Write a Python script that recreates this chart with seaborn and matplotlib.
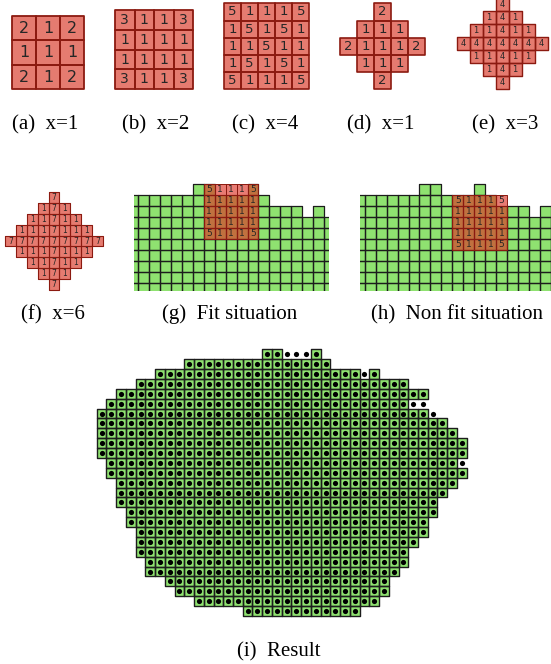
import numpy as np
import matplotlib
matplotlib.use("Agg")
import matplotlib.pyplot as plt
from matplotlib.colors import ListedColormap
from matplotlib.collections import PatchCollection
from matplotlib.patches import Rectangle
import seaborn as sns

# ---------------------------------------------------------------- data
# square kernels (weights per cell)
SQUARE_X1 = [[2, 1, 2],
             [1, 1, 1],
             [2, 1, 2]]
SQUARE_X2 = [[3, 1, 1, 3],
             [1, 1, 1, 1],
             [1, 1, 1, 1],
             [3, 1, 1, 3]]
SQUARE_X4 = [[5, 1, 1, 1, 5],
             [1, 5, 1, 5, 1],
             [1, 1, 5, 1, 1],
             [1, 5, 1, 5, 1],
             [5, 1, 1, 1, 5]]
# diamond kernels (0 = outside the kernel)
DIAMOND_X1 = [[0, 0, 2, 0, 0],
              [0, 1, 1, 1, 0],
              [2, 1, 1, 1, 2],
              [0, 1, 1, 1, 0],
              [0, 0, 2, 0, 0]]
DIAMOND_X3 = [[0, 0, 0, 4, 0, 0, 0],
              [0, 0, 1, 4, 1, 0, 0],
              [0, 1, 1, 4, 1, 1, 0],
              [4, 4, 4, 4, 4, 4, 4],
              [0, 1, 1, 4, 1, 1, 0],
              [0, 0, 1, 4, 1, 0, 0],
              [0, 0, 0, 4, 0, 0, 0]]
DIAMOND_X6 = [[0, 0, 0, 0, 7, 0, 0, 0, 0],
              [0, 0, 0, 1, 7, 1, 0, 0, 0],
              [0, 0, 1, 1, 7, 1, 1, 0, 0],
              [0, 1, 1, 1, 7, 1, 1, 1, 0],
              [7, 7, 7, 7, 7, 7, 7, 7, 7],
              [0, 1, 1, 1, 7, 1, 1, 1, 0],
              [0, 0, 1, 1, 7, 1, 1, 0, 0],
              [0, 0, 0, 1, 7, 1, 0, 0, 0],
              [0, 0, 0, 0, 7, 0, 0, 0, 0]]

# kernel placed on the map, and its top-left (row, col) on the map
PLACED_KERNEL = [[5, 1, 1, 1, 5],
                 [1, 1, 1, 1, 1],
                 [1, 1, 1, 1, 1],
                 [1, 1, 1, 1, 1],
                 [5, 1, 1, 1, 5]]
FIT_AT = (0, 18)
NONFIT_AT = (1, 20)

# map, run-length coded per row: '#' covered cell, 'o' uncovered point, '.' empty
MAP_RUNS = [
    "17. 2# 3o 1# 15.",
    "9. 15# 14.",
    "6. 21# 1o 1# 9.",
    "4. 28# 6.",
    "2. 32# 4.",
    "1. 31# 2o 4.",
    "34# 1o 3.",
    "36# 2.",
    "37# 1.",
    "38#",
    "38#",
    "1. 36# 1o",
    "1. 37#",
    "2. 35# 1.",
    "2. 34# 2.",
    "2. 33# 3.",
    "3. 32# 3.",
    "3. 31# 4.",
    "4. 30# 4.",
    "4. 29# 5.",
    "4. 28# 6.",
    "5. 27# 6.",
    "5. 26# 7.",
    "7. 23# 8.",
    "8. 22# 8.",
    "10. 19# 9.",
    "15. 12# 11.",
]

CAPTIONS = ["(a)  x=1", "(b)  x=2", "(c)  x=4", "(d)  x=1", "(e)  x=3",
            "(f)  x=6", "(g)  Fit situation", "(h)  Non fit situation",
            "(i)  Result"]

# ---------------------------------------------------------------- style
KERNEL_FILL = "#e57b70"
KERNEL_EDGE = "#8b1a10"
OVERLAY_RED = "#dc3124"
DIGIT = "#262626"
GREEN = "#8fe270"
GRID_EDGE = "#1c1c1c"

sns.set_theme(style="white")
plt.rcParams["font.family"] = ["DejaVu Sans"]

W, H = 551, 664
fig = plt.figure(figsize=(W / 100, H / 100), dpi=100)
fig.patch.set_facecolor("white")


def expand(run):
    return "".join(tok[-1] * int(tok[:-1]) for tok in run.split())


MAP = np.array([list(expand(r)) for r in MAP_RUNS])
CELLS = MAP == "#"
POINTS = (MAP == "#") | (MAP == "o")


def axes_px(x0, y0, x1, y1):
    ax = fig.add_axes([x0 / W, 1 - y1 / H, (x1 - x0) / W, (y1 - y0) / H])
    ax.set_facecolor("none")
    return ax


def outline(ax, mask, color, lw, clip=True, z=2):
    rows, cols = np.nonzero(mask)
    rects = [Rectangle((c, r), 1, 1) for r, c in zip(rows, cols)]
    pc = PatchCollection(rects, facecolor="none", edgecolor=color,
                         linewidth=lw, zorder=z, clip_on=clip)
    ax.add_collection(pc, autolim=False)


def kernel_panel(box, values, fs, lw):
    ax = axes_px(*box)
    vals = np.array(values)
    mask = vals == 0
    sns.heatmap(vals, mask=mask, cmap=ListedColormap([KERNEL_FILL]),
                cbar=False, annot=True, fmt="d",
                annot_kws=dict(color=DIGIT, fontsize=fs),
                xticklabels=False, yticklabels=False, ax=ax)
    outline(ax, ~mask, KERNEL_EDGE, lw, clip=False)
    ax.set(xlabel="", ylabel="")
    return ax


def map_panel(box, kernel_at, col0_px, row0_px, sx, sy):
    ax = axes_px(*box)
    sns.heatmap(CELLS.astype(int), mask=~CELLS, cmap=ListedColormap([GREEN]),
                cbar=False, xticklabels=False, yticklabels=False, ax=ax)
    outline(ax, CELLS, GRID_EDGE, 0.9)
    k = np.array(PLACED_KERNEL)
    full = np.zeros(CELLS.shape, int)
    r0, c0 = kernel_at
    full[r0:r0 + k.shape[0], c0:c0 + k.shape[1]] = k
    sns.heatmap(full, mask=full == 0, cmap=ListedColormap([OVERLAY_RED]),
                alpha=0.64, zorder=2.5, cbar=False, annot=True, fmt="d",
                annot_kws=dict(color=DIGIT, fontsize=6.5),
                xticklabels=False, yticklabels=False, ax=ax)
    outline(ax, full > 0, KERNEL_EDGE, 0.7, z=3)
    x0, y0, x1, y1 = box
    ax.set_xlim((x0 - col0_px) / sx, (x1 - col0_px) / sx)
    ax.set_ylim((y1 - row0_px) / sy, (y0 - row0_px) / sy)
    ax.set(xlabel="", ylabel="")
    return ax


# ---------------------------------------------------------------- kernels
kernel_panel((12.3, 16.0, 84.3, 89.3), SQUARE_X1, 11.5, 1.3)
kernel_panel((115.0, 10.0, 193.3, 89.3), SQUARE_X2, 10, 1.3)
kernel_panel((224.0, 3.3, 309.3, 89.3), SQUARE_X4, 9.5, 1.2)
kernel_panel((340.0, 3.3, 425.0, 89.3), DIAMOND_X1, 9.5, 1.2)
kernel_panel((456.7, -1.7, 547.7, 89.3), DIAMOND_X3, 6, 1.0)
kernel_panel((5.0, 192.0, 103.0, 290.0), DIAMOND_X6, 5.5, 0.8)

# ---------------------------------------------------------------- fit / non fit
map_panel((134.0, 182.5, 329.0, 290.7), FIT_AT, 138.0 - 12 * 10.95, 184.3, 10.95, 11.0)
map_panel((359.7, 182.5, 551.0, 290.7), NONFIT_AT, 364.7 - 12 * 10.95, 184.3, 10.95, 11.0)

# ---------------------------------------------------------------- result
ax = axes_px(96.7, 349.3, 466.7, 616.0)
sns.heatmap(CELLS.astype(int), mask=~CELLS, cmap=ListedColormap([GREEN]),
            cbar=False, xticklabels=False, yticklabels=False, ax=ax)
outline(ax, CELLS, GRID_EDGE, 1.0, clip=False)
pr, pc_ = np.nonzero(POINTS)
sns.scatterplot(x=pc_ + 0.5, y=pr + 0.5, color="black", s=14, linewidth=0,
                zorder=3, legend=False, ax=ax)
ax.set_xlim(0, CELLS.shape[1])
ax.set_ylim(CELLS.shape[0], 0)
ax.set(xlabel="", ylabel="")

# ---------------------------------------------------------------- captions
cap_pos = [(45, 129), (156, 129), (265, 129), (381, 129), (505, 129),
           (53, 319.5), (230, 319.5), (457, 319.5), (279, 656)]
for text, (x, y) in zip(CAPTIONS, cap_pos):
    fig.text(x / W, 1 - y / H, text, ha="center", va="baseline",
             fontsize=15, family="Liberation Serif", color="black")

fig.savefig("out.png", dpi=100, facecolor="white")
